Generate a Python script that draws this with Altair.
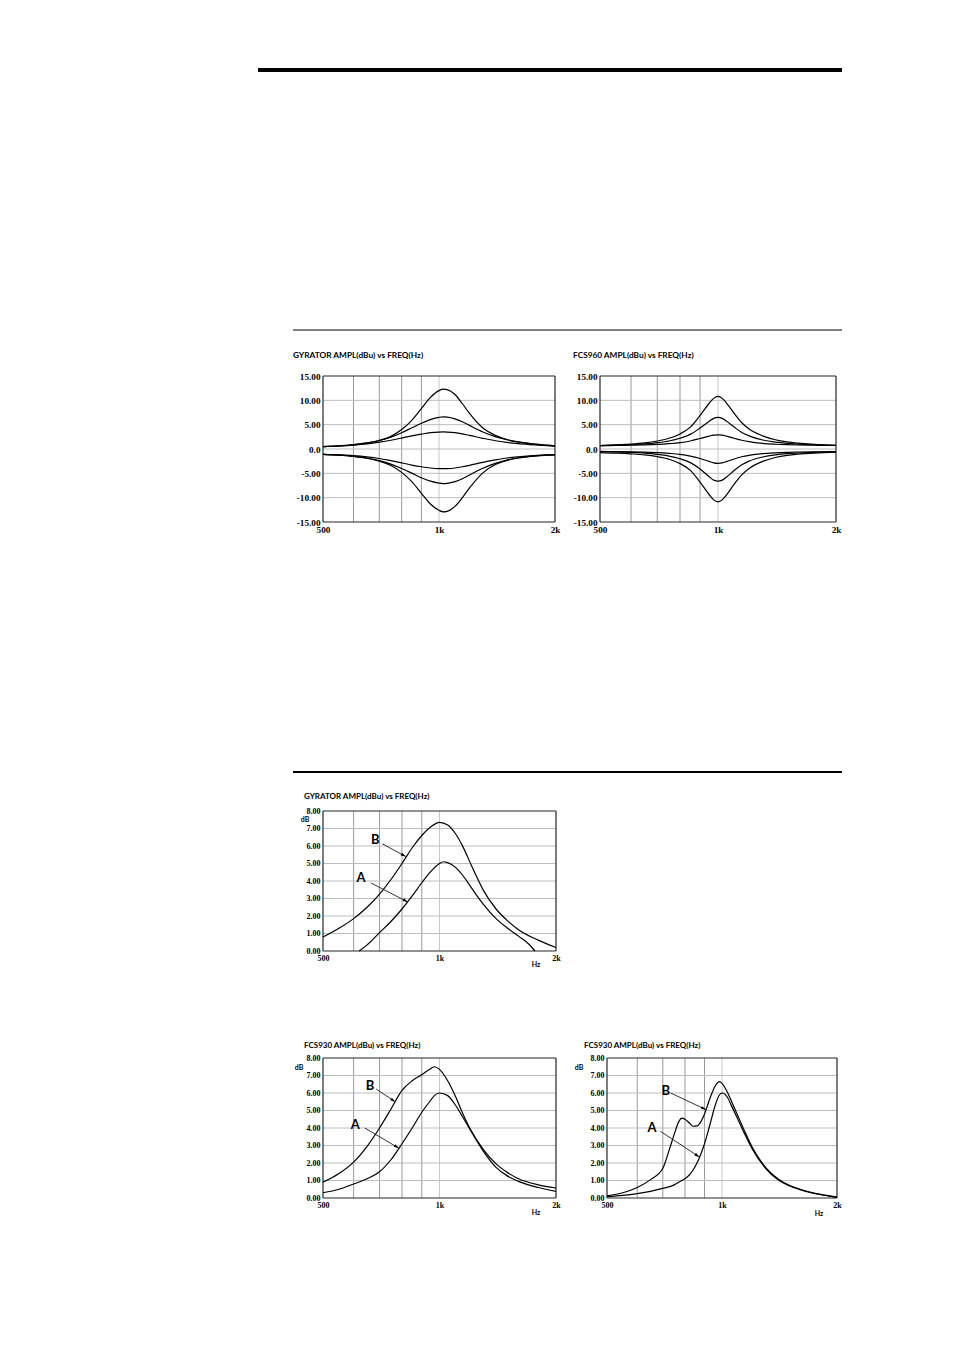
import math
import altair as alt
import pandas as pd

# ---------------- axis ticks / grid ----------------
X_TICKS = [500, 1000, 2000]
X_TICK_LABELS = ["500", "1k", "2k"]
X_GRID = [600, 700, 800, 900]
X_GRID_1K = [1000]

TOP_Y_TICKS = [-15, -10, -5, 0, 5, 10, 15]
TOP_Y_GRID = [-10, -5, 0, 5, 10]
BOT_Y_TICKS = [0, 1, 2, 3, 4, 5, 6, 7, 8]
BOT_Y_GRID = [1, 2, 3, 4, 5, 6, 7]

# ---------------- GYRATOR (top left), 6 curves ----------------
F_GYR6 = [500, 550, 600, 650, 700, 750, 800, 850, 900, 950, 1000, 1025, 1050,
          1100, 1150, 1200, 1300, 1400, 1500, 1600, 1800, 2000]
GYR_UP1 = [0.5, 0.65, 0.85, 1.2, 1.75, 2.6, 4.0, 5.9, 8.3, 10.6, 12.0, 12.3, 12.2,
           11.2, 9.3, 7.3, 4.3, 2.8, 1.95, 1.45, 0.95, 0.65]
GYR_UP2 = [0.5, 0.65, 0.9, 1.25, 1.75, 2.45, 3.35, 4.35, 5.3, 6.05, 6.5, 6.6, 6.55,
           6.2, 5.6, 4.85, 3.5, 2.55, 1.9, 1.45, 0.95, 0.65]
GYR_UP3 = [0.5, 0.62, 0.8, 1.05, 1.4, 1.8, 2.25, 2.7, 3.05, 3.35, 3.48, 3.5, 3.48,
           3.35, 3.1, 2.8, 2.2, 1.7, 1.35, 1.1, 0.8, 0.6]
GYR_DN3 = [-1.1, -1.2, -1.35, -1.6, -1.95, -2.4, -2.85, -3.3, -3.65, -3.9, -4.03, -4.05, -4.03,
           -3.9, -3.65, -3.35, -2.75, -2.25, -1.85, -1.6, -1.3, -1.15]
GYR_DN2 = [-1.1, -1.25, -1.5, -1.85, -2.4, -3.1, -4.0, -4.95, -5.9, -6.6, -7.0, -7.1, -7.05,
           -6.7, -6.1, -5.35, -3.95, -2.95, -2.3, -1.85, -1.4, -1.2]
GYR_DN1 = [-1.1, -1.25, -1.5, -1.9, -2.5, -3.4, -4.8, -6.7, -9.1, -11.3, -12.6, -12.9, -12.8,
           -11.8, -10.0, -8.0, -4.9, -3.2, -2.35, -1.85, -1.35, -1.15]

# ---------------- FCS960 (top right), 6 curves ----------------
F_FCS960 = [500, 550, 600, 650, 700, 750, 800, 850, 900, 950, 975, 1000, 1025, 1050,
            1100, 1150, 1200, 1300, 1400, 1500, 1600, 1800, 2000]
FCS960_UP1 = [0.7, 0.85, 1.0, 1.25, 1.65, 2.2, 3.1, 4.5, 6.9, 9.4, 10.4, 10.8, 10.4, 9.5,
              7.3, 5.4, 4.1, 2.7, 1.9, 1.45, 1.2, 0.9, 0.75]
FCS960_UP2 = [0.7, 0.78, 0.9, 1.05, 1.3, 1.65, 2.2, 3.0, 4.3, 5.7, 6.3, 6.5, 6.3, 5.75,
              4.5, 3.4, 2.7, 1.85, 1.4, 1.15, 1.0, 0.85, 0.75]
FCS960_UP3 = [0.7, 0.72, 0.78, 0.85, 0.95, 1.1, 1.3, 1.65, 2.15, 2.65, 2.85, 2.9, 2.85, 2.65,
              2.2, 1.8, 1.5, 1.15, 0.98, 0.88, 0.82, 0.76, 0.72]
FCS960_DN3 = [-0.5, -0.53, -0.58, -0.65, -0.75, -0.9, -1.1, -1.45, -1.95, -2.55, -2.85, -2.95, -2.85, -2.6,
              -2.05, -1.6, -1.3, -0.95, -0.78, -0.68, -0.62, -0.56, -0.52]
FCS960_DN2 = [-0.55, -0.6, -0.7, -0.85, -1.1, -1.45, -2.0, -2.8, -4.1, -5.7, -6.4, -6.6, -6.4, -5.8,
              -4.4, -3.25, -2.5, -1.65, -1.2, -0.95, -0.82, -0.65, -0.55]
FCS960_DN1 = [-0.75, -0.85, -1.0, -1.2, -1.55, -2.1, -3.0, -4.4, -6.8, -9.4, -10.45, -10.85, -10.45, -9.5,
              -7.2, -5.3, -4.0, -2.55, -1.75, -1.3, -1.05, -0.8, -0.65]

# ---------------- GYRATOR A / B ----------------
F_GYR_B = [500, 550, 600, 650, 700, 750, 800, 850, 900, 950, 1000, 1050, 1100, 1150,
           1200, 1250, 1300, 1400, 1500, 1600, 1800, 2000]
GYR_B = [0.8, 1.3, 1.85, 2.5, 3.25, 4.1, 5.0, 5.9, 6.6, 7.1, 7.35, 7.2, 6.7, 5.95,
         5.05, 4.2, 3.45, 2.4, 1.72, 1.22, 0.62, 0.2]
F_GYR_A = [620, 650, 700, 750, 800, 850, 900, 950, 1000, 1025, 1050, 1100, 1150, 1200,
           1250, 1300, 1400, 1500, 1600, 1700, 1765]
GYR_A = [0.0, 0.35, 1.05, 1.7, 2.4, 3.15, 3.9, 4.55, 5.0, 5.1, 5.05, 4.78, 4.3, 3.72,
         3.15, 2.65, 1.85, 1.3, 0.85, 0.4, 0.0]

# ---------------- FCS930 (left) A / B ----------------
F_FCS930L = [500, 550, 600, 650, 700, 750, 800, 850, 900, 950, 970, 1000, 1050, 1100,
             1150, 1200, 1300, 1400, 1500, 1600, 1800, 2000]
FCS930L_B = [0.9, 1.4, 2.05, 2.95, 4.0, 5.1, 6.15, 6.7, 7.05, 7.4, 7.5, 7.35, 6.7, 5.8,
             4.8, 3.95, 2.75, 1.95, 1.45, 1.1, 0.75, 0.57]
FCS930L_A = [0.3, 0.5, 0.8, 1.1, 1.5, 2.2, 3.1, 4.0, 4.9, 5.6, 5.85, 6.0, 5.85, 5.3,
             4.6, 3.9, 2.65, 1.75, 1.25, 0.95, 0.6, 0.38]

# ---------------- FCS930 (right) A / B ----------------
F_FCS930R = [500, 550, 600, 650, 700, 730, 750, 770, 785, 800, 820, 840, 860, 880, 900,
             930, 960, 985, 1000, 1030, 1060, 1100, 1150, 1200, 1300, 1400, 1500, 1600, 1800, 2000]
FCS930R_B = [0.12, 0.3, 0.6, 1.05, 1.7, 2.85, 3.65, 4.35, 4.57, 4.5, 4.3, 4.1, 4.12, 4.35, 4.8,
             5.7, 6.4, 6.65, 6.55, 6.1, 5.5, 4.7, 3.75, 2.9, 1.75, 1.1, 0.72, 0.5, 0.22, 0.05]
FCS930R_A = [0.08, 0.15, 0.25, 0.38, 0.55, 0.65, 0.75, 0.9, 1.0, 1.1, 1.3, 1.6, 2.0, 2.5, 3.1,
             4.2, 5.3, 5.9, 6.0, 5.8, 5.25, 4.5, 3.6, 2.8, 1.7, 1.05, 0.7, 0.48, 0.2, 0.04]

# ---------------- annotations (label text, freq, dB) and arrows (f1, dB1 -> f2, dB2) ----------------
GYR_LABEL_TEXT = ["B", "A"]
GYR_LABEL_F = [682, 627]
GYR_LABEL_DB = [6.34, 4.18]
GYR_ARROWS = [(711, 6.13, 818, 5.40), (665, 3.89, 828, 2.8)]

FCS930L_LABEL_TEXT = ["B", "A"]
FCS930L_LABEL_F = [661, 606]
FCS930L_LABEL_DB = [6.42, 4.19]
FCS930L_ARROWS = [(686, 6.23, 768, 5.5), (641, 4.0, 785, 2.85)]

FCS930R_LABEL_TEXT = ["B", "A"]
FCS930R_LABEL_F = [713, 656]
FCS930R_LABEL_DB = [6.1, 4.0]
FCS930R_ARROWS = [(734, 6.0, 908, 5.05), (690, 3.81, 872, 2.35)]

TITLE_GYR = "GYRATOR AMPL(dBu) vs FREQ(Hz)"
TITLE_960 = "FCS960 AMPL(dBu) vs FREQ(Hz)"
TITLE_930 = "FCS930 AMPL(dBu) vs FREQ(Hz)"

# ---------------- styling ----------------
SERIF = "Liberation Serif"
SANS = "Lato"
HEAD = "M0,0L-0.6,2L0.6,2Z"
FRAME = "#262626"
ONE = pd.DataFrame({"k": [0]})


def x_label_expr():
    expr = "'" + X_TICK_LABELS[-1] + "'"
    for v, l in reversed(list(zip(X_TICKS[:-1], X_TICK_LABELS[:-1]))):
        expr = "datum.value == %s ? '%s' : %s" % (v, l, expr)
    return expr


TOP_Y_EXPR = "datum.value == 0 ? '0.0' : (datum.value < 0 ? '-' : '') + format(abs(datum.value), '.2f')"
BOT_Y_EXPR = "format(datum.value, '.2f')"


def vtext(s, x, y, size, align="left"):
    return alt.Chart(ONE).mark_text(
        align=align, baseline="middle", font=SANS, fontWeight="bold",
        fontSize=size, color="black"
    ).encode(x=alt.value(x), y=alt.value(y), text=alt.value(s))


def vrule(x1, x2, y, sw=1.0, opacity=1.0, color="black"):
    return alt.Chart(ONE).mark_rule(color=color, strokeWidth=sw, opacity=opacity).encode(
        x=alt.value(x1), x2=alt.value(x2), y=alt.value(y))


def hrule_v(x, y1, y2, sw=1.0, color="black"):
    return alt.Chart(ONE).mark_rule(color=color, strokeWidth=sw).encode(
        x=alt.value(x), y=alt.value(y1), y2=alt.value(y2))


def anchor(x, y):
    # invisible, zero-width layout anchor
    return vrule(x, x + 1, y, 0, 0.0)


def frame(W, H):
    return [vrule(0, W, 0, 1.2, 1.0, FRAME), vrule(0, W, H, 1.2, 1.0, FRAME),
            hrule_v(0, 0, H, 1.2, FRAME), hrule_v(W, 0, H, 1.2, FRAME)]


def head_angle(f1, y1, f2, y2, W, H, span):
    dx = W * math.log(f2 / f1) / math.log(4)
    dys = -H * (y2 - y1) / span
    return math.degrees(math.atan2(dx, -dys)) % 360


def panel(series, W, H, ydom, yticks, ygrid, yexpr, lab_size, title, title_xy, title_size,
          labels=None, arrows=None, db_xy=None, hz_xy=None, extra=()):
    xs = alt.Scale(type="log", domain=[500, 2000], nice=False)
    ys = alt.Scale(domain=ydom, nice=False, zero=False)
    common = dict(title=None, grid=False, ticks=False, domain=False, labelFont=SERIF,
                  labelFontSize=lab_size, labelFontWeight="bold", labelColor="black",
                  labelOverlap=False)
    xax = alt.Axis(values=X_TICKS, labelExpr=x_label_expr(), labelPadding=3,
                   labelFlush=False, **common)
    yax = alt.Axis(values=yticks, labelExpr=yexpr, labelPadding=3, **common)

    def X(f):
        return alt.X(f, type="quantitative", scale=xs, axis=xax)

    def Y(f):
        return alt.Y(f, type="quantitative", scale=ys, axis=yax)

    layers = [
        alt.Chart(pd.DataFrame({"f": X_GRID})).mark_rule(color="#9a9a9a", strokeWidth=1).encode(x=X("f")),
        alt.Chart(pd.DataFrame({"f": X_GRID_1K})).mark_rule(color="#c8c8c8", strokeWidth=1).encode(x=X("f")),
        alt.Chart(pd.DataFrame({"db": ygrid})).mark_rule(color="#bdbdbd", strokeWidth=1).encode(y=Y("db")),
    ]
    layers.extend(frame(W, H))
    rows = [{"s": n, "f": f, "db": v} for n, fs, vs in series for f, v in zip(fs, vs)]
    layers.append(
        alt.Chart(pd.DataFrame(rows)).mark_line(
            color="black", strokeWidth=1.2, interpolate="monotone"
        ).encode(x=X("f"), y=Y("db"), detail="s:N")
    )
    if labels is not None:
        t, lf, ld = labels
        layers.append(
            alt.Chart(pd.DataFrame({"t": t, "f": lf, "db": ld})).mark_text(
                font=SANS, fontWeight="bold", fontSize=13, color="black",
                align="center", baseline="middle"
            ).encode(x=X("f"), y=Y("db"), text="t:N")
        )
    if arrows is not None:
        span = ydom[1] - ydom[0]
        adf = pd.DataFrame([
            {"f": a[0], "db": a[1], "f2": a[2], "db2": a[3],
             "ang": head_angle(a[0], a[1], a[2], a[3], W, H, span)} for a in arrows
        ])
        layers.append(
            alt.Chart(adf).mark_rule(color="black", strokeWidth=0.8).encode(
                x=X("f"), y=Y("db"), x2=alt.X2("f2"), y2=alt.Y2("db2"))
        )
        layers.append(
            alt.Chart(adf).mark_point(shape=HEAD, filled=True, color="black", size=25,
                                      opacity=1, strokeWidth=0).encode(
                x=X("f2"), y=Y("db2"), angle=alt.Angle("ang:Q", scale=None))
        )
    layers.append(vtext(title, title_xy[0], title_xy[1], title_size))
    if db_xy is not None:
        layers.append(vtext("dB", db_xy[0], db_xy[1], 7, "center"))
    if hz_xy is not None:
        layers.append(vtext("Hz", hz_xy[0], H + hz_xy[1], 7, "center"))
    layers.extend(extra)
    return alt.layer(*layers).properties(width=W, height=H)


# ---------------- panels ----------------
tl = panel(
    [("u1", F_GYR6, GYR_UP1), ("u2", F_GYR6, GYR_UP2), ("u3", F_GYR6, GYR_UP3),
     ("d3", F_GYR6, GYR_DN3), ("d2", F_GYR6, GYR_DN2), ("d1", F_GYR6, GYR_DN1)],
    232, 146, [-15, 15], TOP_Y_TICKS, TOP_Y_GRID, TOP_Y_EXPR, 9.2,
    TITLE_GYR, (-30, -20.5), 8.3,
    extra=[anchor(0, -40), anchor(0, 324), anchor(246, 10)],
)
tr = panel(
    [("u1", F_FCS960, FCS960_UP1), ("u2", F_FCS960, FCS960_UP2), ("u3", F_FCS960, FCS960_UP3),
     ("d3", F_FCS960, FCS960_DN3), ("d2", F_FCS960, FCS960_DN2), ("d1", F_FCS960, FCS960_DN1)],
    236, 146, [-15, 15], TOP_Y_TICKS, TOP_Y_GRID, TOP_Y_EXPR, 9.2,
    TITLE_960, (-27, -20.5), 8.3,
    extra=[anchor(-30, 10)],
)
gy = panel(
    [("B", F_GYR_B, GYR_B), ("A", F_GYR_A, GYR_A)],
    233, 140, [0, 8], BOT_Y_TICKS, BOT_Y_GRID, BOT_Y_EXPR, 8,
    TITLE_GYR, (-19, -14), 8.0,
    labels=(GYR_LABEL_TEXT, GYR_LABEL_F, GYR_LABEL_DB), arrows=GYR_ARROWS,
    db_xy=(-18, 8.5), hz_xy=(213, 14),
    extra=[vrule(-30, 519, -39, 2.0), anchor(0, -111), anchor(0, 199)],
)
fl = panel(
    [("B", F_FCS930L, FCS930L_B), ("A", F_FCS930L, FCS930L_A)],
    233, 140, [0, 8], BOT_Y_TICKS, BOT_Y_GRID, BOT_Y_EXPR, 8,
    TITLE_930, (-19, -12.5), 8.0,
    labels=(FCS930L_LABEL_TEXT, FCS930L_LABEL_F, FCS930L_LABEL_DB), arrows=FCS930L_ARROWS,
    db_xy=(-24, 10), hz_xy=(213, 14.5),
    extra=[anchor(0, -48), anchor(246, 10)],
)
fr = panel(
    [("B", F_FCS930R, FCS930R_B), ("A", F_FCS930R, FCS930R_A)],
    230, 140, [0, 8], BOT_Y_TICKS, BOT_Y_GRID, BOT_Y_EXPR, 8,
    TITLE_930, (-23, -12.5), 8.0,
    labels=(FCS930R_LABEL_TEXT, FCS930R_LABEL_F, FCS930R_LABEL_DB), arrows=FCS930R_ARROWS,
    db_xy=(-28, 10), hz_xy=(212, 15.5),
    extra=[anchor(0, -48), anchor(-37, 10)],
)

header = alt.layer(
    vrule(-65, 519, 0, 4.0),
    vrule(-30, 519, 260, 1.0),
    anchor(-75, -10),
    anchor(0, 266),
).properties(width=519, height=260)

chart = alt.vconcat(
    header,
    alt.hconcat(tl, tr, spacing=0),
    gy,
    alt.hconcat(fl, fr, spacing=0),
    spacing=0,
).properties(
    padding={"left": 240, "top": 52, "right": 5, "bottom": 5}
).configure_view(strokeOpacity=0, strokeWidth=0)

chart.save("out.html", embed_options={"renderer": "svg", "actions": False})
